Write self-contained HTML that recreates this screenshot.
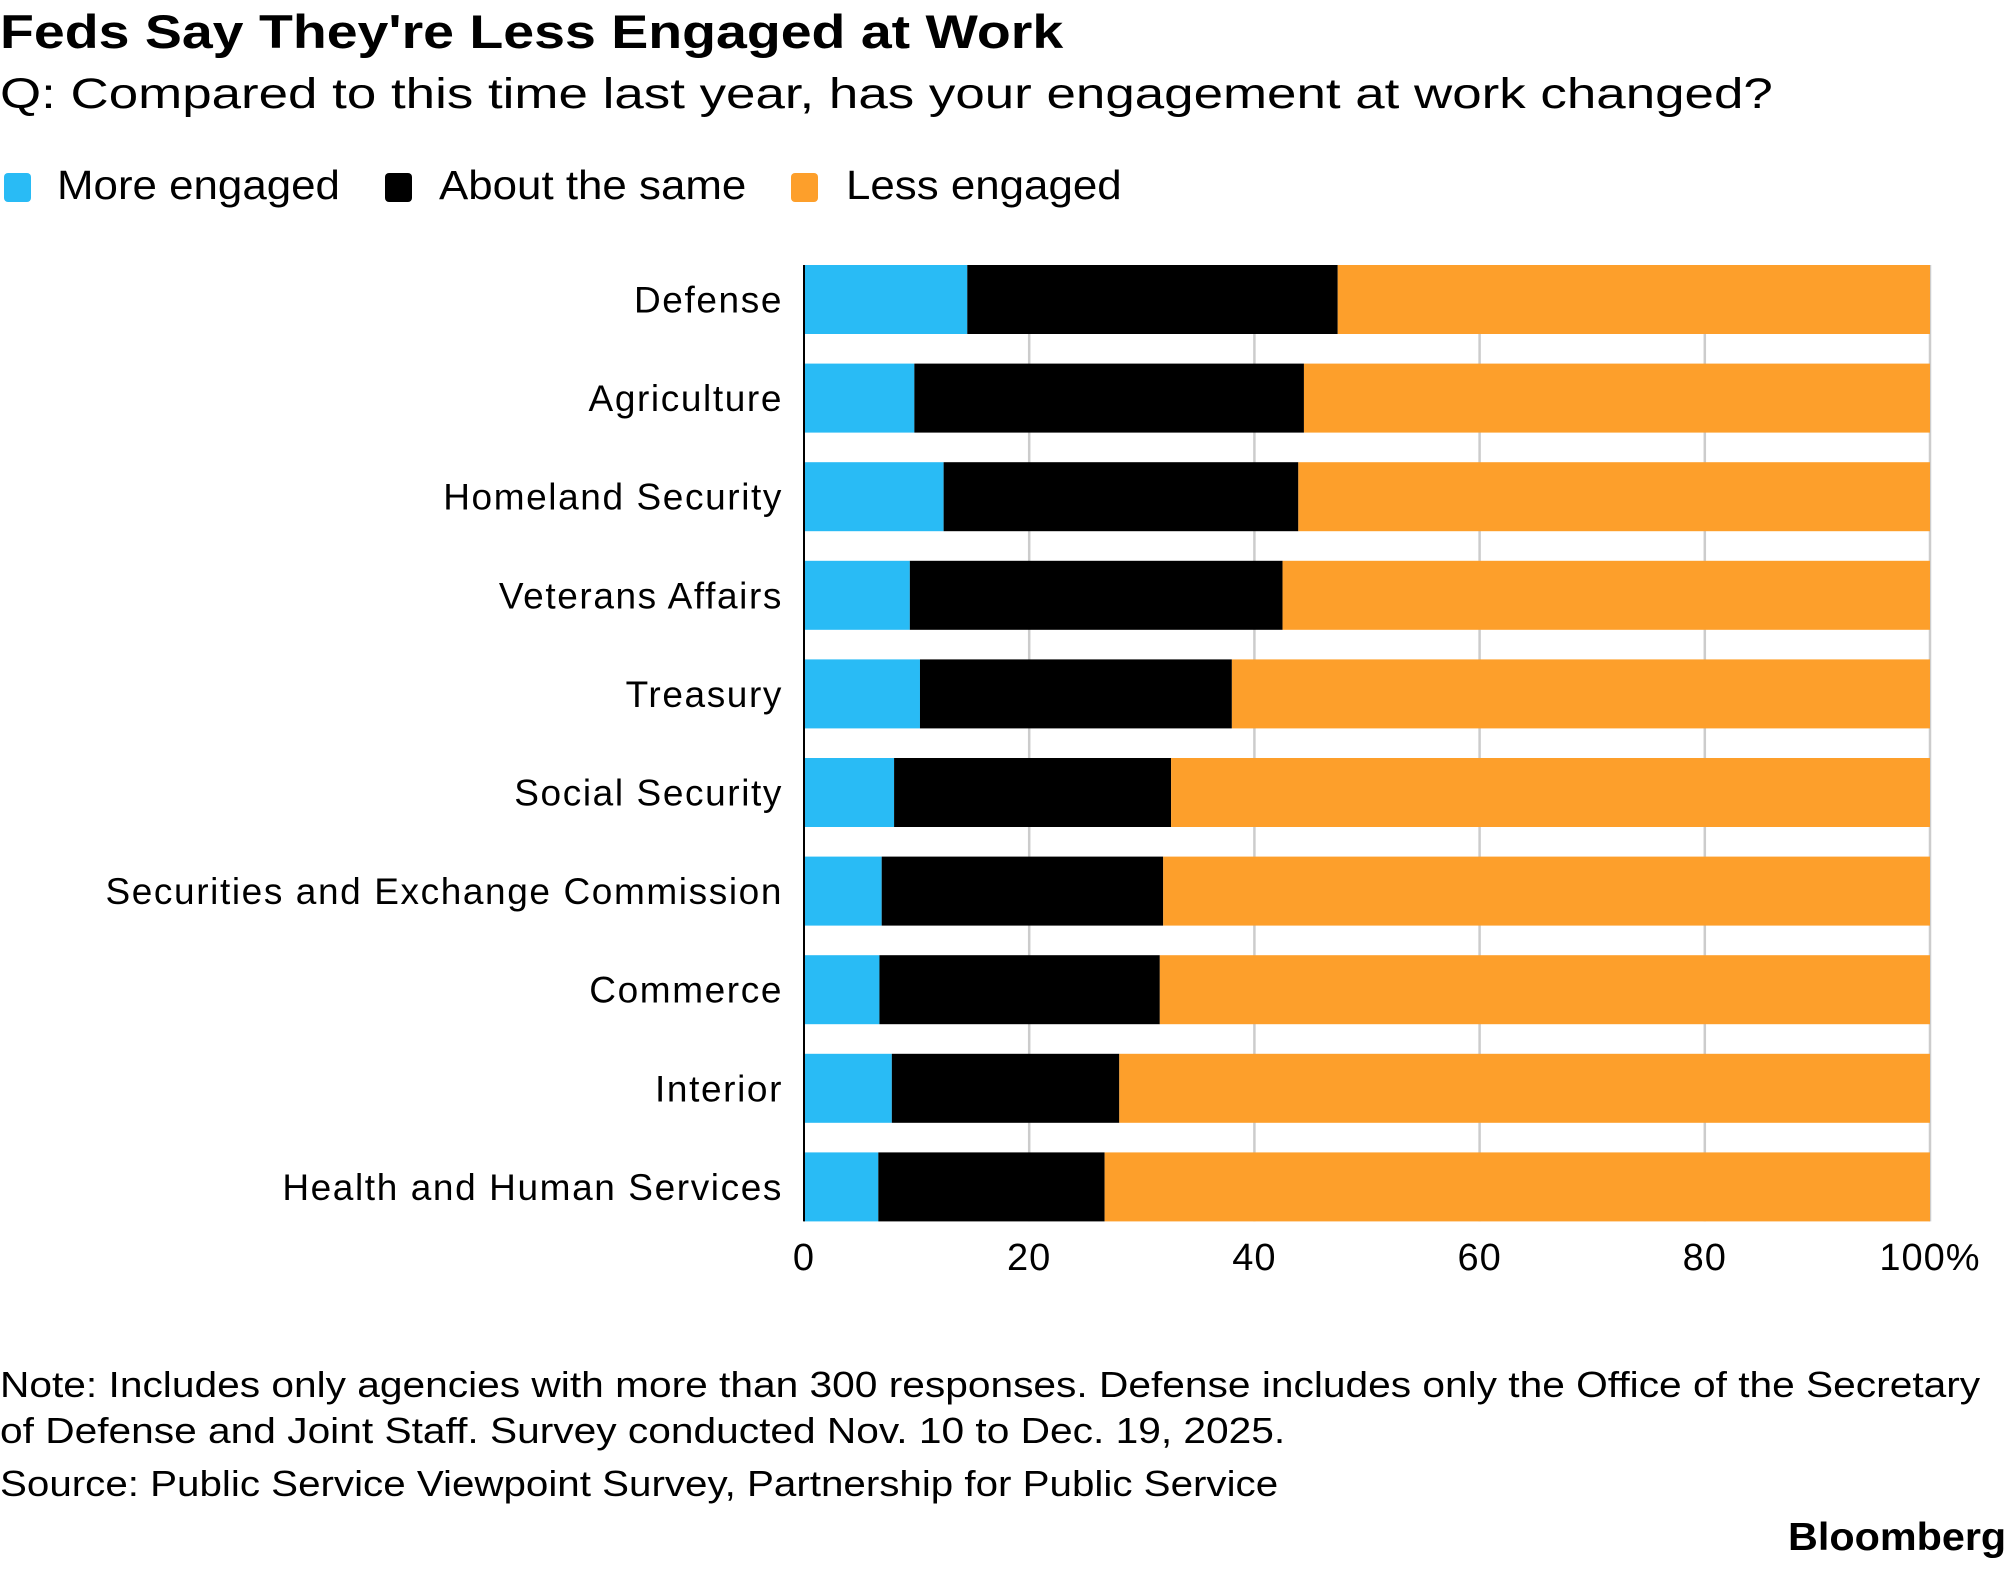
<!DOCTYPE html>
<html><head><meta charset="utf-8"><style>
body{margin:0;background:#fff;width:2006px;height:1569px;overflow:hidden;font-family:"Liberation Sans",Arial,sans-serif;color:#000}
.t{position:absolute;white-space:nowrap;transform-origin:0 0}
</style></head><body>
<div class="t" style="left:0;top:4px;font-size:47px;font-weight:bold;transform:scaleX(1.18)">Feds Say They're Less Engaged at Work</div>
<div class="t" style="left:0;top:70px;font-size:43px;transform:scaleX(1.23)">Q: Compared to this time last year, has your engagement at work changed?</div>
<div>
<div style="position:absolute;left:4px;top:173px;width:27px;height:29px;border-radius:4px;background:#29bbf5"></div>
<div class="t" style="left:57px;top:162px;font-size:41px;transform:scaleX(1.07)">More engaged</div>
<div style="position:absolute;left:385px;top:173px;width:27px;height:29px;border-radius:4px;background:#000"></div>
<div class="t" style="left:439px;top:162px;font-size:41px;transform:scaleX(1.07)">About the same</div>
<div style="position:absolute;left:791px;top:173px;width:27px;height:29px;border-radius:4px;background:#fd9f2b"></div>
<div class="t" style="left:846px;top:162px;font-size:41px;transform:scaleX(1.07)">Less engaged</div>
</div>
<svg id="chart" width="2006" height="1569" style="position:absolute;left:0;top:0"></svg>
<div class="t" style="left:0;top:1362px;font-size:36px;line-height:46px;transform:scaleX(1.13)">Note: Includes only agencies with more than 300 responses. Defense includes only the Office of the Secretary<br>of Defense and Joint Staff. Survey conducted Nov. 10 to Dec. 19, 2025.</div>
<div class="t" style="left:0;top:1463px;font-size:36px;transform:scaleX(1.12)">Source: Public Service Viewpoint Survey, Partnership for Public Service</div>
<div class="t" style="left:1788px;top:1516px;font-size:39px;font-weight:bold;transform:scaleX(1.06)">Bloomberg</div>
<script>
const categories=["Defense","Agriculture","Homeland Security","Veterans Affairs","Treasury","Social Security","Securities and Exchange Commission","Commerce","Interior","Health and Human Services"];
const moreEngaged=[14.5,9.8,12.4,9.4,10.3,8.0,6.9,6.7,7.8,6.6];
const aboutSame=[32.9,34.6,31.5,33.1,27.7,24.6,25.0,24.9,20.2,20.1];
const lessEngaged=[52.6,55.6,56.1,57.5,62.0,67.4,68.1,68.4,72.0,73.3];
const ticks=[0,20,40,60,80,100];
const tickLabels=["0","20","40","60","80","100%"];
const NS="http://www.w3.org/2000/svg";
const svg=document.getElementById('chart');
const X0=804,X1=1930,TOP=265,PITCH=98.6,BH=69;
const x=v=>X0+(X1-X0)*v/100;
const y=i=>TOP+i*PITCH;
function mk(tag,attrs){const e=document.createElementNS(NS,tag);for(const k in attrs)e.setAttribute(k,attrs[k]);svg.appendChild(e);return e;}
const gBottom=y(categories.length-1)+BH;
ticks.forEach((t,i)=>{
 if(t>0){const l=mk('line',{x1:x(t),x2:x(t),y1:TOP,y2:gBottom,stroke:'#cccccc','stroke-width':2.5});
 
 }
 const tx=mk('text',{x:x(t),y:1270,'font-size':38,'letter-spacing':1,'text-anchor':'middle','font-family':'Liberation Sans, sans-serif'});
 tx.textContent=tickLabels[i];
 
 
});
const colors=['#29bbf5','#000000','#fd9f2b'];
const series=[moreEngaged,aboutSame,lessEngaged];
const names=['more','same','less'];
categories.forEach((c,i)=>{
 let acc=0;
 series.forEach((s,k)=>{
  const r=mk('rect',{x:x(acc),y:y(i),width:x(acc+s[i])-x(acc),height:BH,fill:colors[k]});
  
  
  acc+=s[i];
 });
 const tx=mk('text',{x:783,y:y(i)+BH/2+13,'font-size':37,'letter-spacing':1.6,'text-anchor':'end','font-family':'Liberation Sans, sans-serif'});
 tx.textContent=c;
 
 
});
const ax=mk('line',{x1:X0,x2:X0,y1:TOP,y2:gBottom,stroke:'#000','stroke-width':2});


</script>
</body></html>
